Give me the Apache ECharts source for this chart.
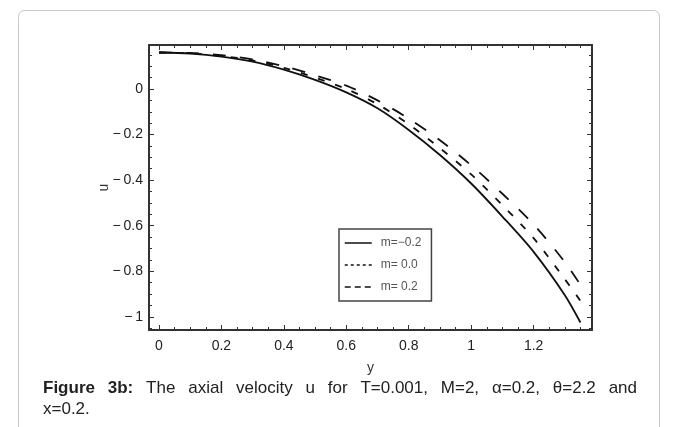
<!DOCTYPE html>
<html>
<head>
<meta charset="utf-8">
<script src="https://cdn.jsdelivr.net/npm/echarts@6/dist/echarts.min.js"></script>
<style>
  html, body { margin: 0; padding: 0; background: #fff; }
  #chart { width: 677px; height: 427px; }
</style>
</head>
<body>
<div id="chart"></div>
<script>
// y positions along the channel
const yValues = [0, 0.1, 0.2, 0.3, 0.4, 0.5, 0.6, 0.7, 0.8, 0.9, 1.0, 1.1, 1.2, 1.3, 1.35];
// axial velocity u
const uMinus02 = [0.16, 0.155, 0.142, 0.12, 0.085, 0.04, -0.015, -0.085, -0.18, -0.29, -0.415, -0.56, -0.715, -0.905, -1.025];
const uZero = [0.16, 0.156, 0.145, 0.125, 0.093, 0.05, 0.0, -0.067, -0.155, -0.26, -0.375, -0.51, -0.655, -0.835, -0.93];
const uPlus02 = [0.16, 0.158, 0.148, 0.13, 0.1, 0.06, 0.015, -0.05, -0.13, -0.225, -0.335, -0.46, -0.595, -0.76, -0.86];
const seriesNames = ["m=\u22120.2", "m= 0.0", "m= 0.2"];
const xTickLabels = ["0", "0.2", "0.4", "0.6", "0.8", "1", "1.2"];
const yTickLabels = ["0", "\u22120.2", "\u22120.4", "\u22120.6", "\u22120.8", "\u22121"];

const captionLine1 = ["Figure", "3b:", "The", "axial", "velocity", "u", "for", "T=0.001,", "M=2,", "\u03b1=0.2,", "\u03b8=2.2", "and"];
const captionLine2 = "x=0.2.";

const pair = arr => yValues.map((y, i) => [y, arr[i]]);

const tickColor = "#333";
const fontFamily = "'Liberation Sans', Arial, sans-serif";

function fmt(v, labels) {
  const r = Math.round(v * 1000) / 1000;
  const txt = (r < 0 ? "\u2212" : "") + String(Math.abs(r));
  return labels.indexOf(txt) >= 0 ? txt : "";
}

// justified caption: place each word
const capFont = 17;
const capLeft = 43, capRight = 637;
const ctx = document.createElement("canvas").getContext("2d");
function wordWidth(w, bold) {
  ctx.font = (bold ? "bold " : "") + capFont + "px 'Liberation Sans'";
  return ctx.measureText(w).width;
}
const widths = captionLine1.map((w, i) => wordWidth(w, i < 2));
const total = widths.reduce((a, b) => a + b, 0);
const gap = (capRight - capLeft - total) / (captionLine1.length - 1);
const captionEls = [];
let cx = capLeft;
captionLine1.forEach((w, i) => {
  captionEls.push({
    type: "text",
    x: cx, y: 388,
    style: {
      text: w, fill: "#222", fontSize: capFont, fontFamily: "Liberation Sans",
      fontWeight: i < 2 ? "bold" : "normal", verticalAlign: "middle"
    }
  });
  cx += widths[i] + gap;
});
captionEls.push({
  type: "text", x: capLeft, y: 409,
  style: { text: captionLine2, fill: "#222", fontSize: capFont, fontFamily: "Liberation Sans", verticalAlign: "middle" }
});

const axisCommon = {
  type: "value",
  axisLine: { show: true, onZero: false, lineStyle: { color: tickColor, width: 2 } },
  axisTick: { show: true, inside: true, length: 5, lineStyle: { color: tickColor, width: 1 } },
  minorTick: { show: true, splitNumber: 4, length: 3, lineStyle: { color: tickColor, width: 1 } },
  splitLine: { show: false }
};

const hiddenSymbol = { opacity: 0, borderWidth: 0 };

const chart = echarts.init(document.getElementById("chart"));
chart.setOption({
  backgroundColor: "#fff",
  animation: false,
  graphic: [
    {
      type: "rect",
      shape: { x: 18.5, y: 10.5, width: 641, height: 440, r: 6 },
      style: { fill: "none", stroke: "#c9c9c9", lineWidth: 1 }
    }
  ].concat(captionEls),
  grid: { left: 149, top: 45, width: 443, height: 285, containLabel: false },
  legend: {
    orient: "vertical",
    left: 339, top: 229,
    padding: [8, 10, 8, 5],
    borderColor: "#444", borderWidth: 1.5,
    itemWidth: 27, itemHeight: 12, itemGap: 10,
    textStyle: { color: "#555", fontSize: 12, fontFamily: fontFamily, padding: [0, 0, 0, 4] },
    data: [
      { name: seriesNames[0], itemStyle: hiddenSymbol, lineStyle: { color: "#111", width: 1.5, type: "solid" } },
      { name: seriesNames[1], itemStyle: hiddenSymbol, lineStyle: { color: "#111", width: 1.5, type: [3, 3] } },
      { name: seriesNames[2], itemStyle: hiddenSymbol, lineStyle: { color: "#111", width: 1.5, type: [6, 4] } }
    ]
  },
  xAxis: [
    Object.assign({}, axisCommon, {
      position: "bottom",
      min: -0.032, max: 1.387, splitNumber: 7,
      name: "y", nameLocation: "middle", nameGap: 31, nameMoveOverlap: false,
      nameTextStyle: { color: "#333", fontSize: 14, fontFamily: fontFamily },
      axisLabel: {
        color: "#222", fontSize: 14, fontFamily: fontFamily, margin: 9,
        showMinLabel: true, showMaxLabel: true,
        formatter: v => fmt(v, xTickLabels)
      }
    }),
    Object.assign({}, axisCommon, {
      position: "top",
      min: -0.032, max: 1.387, splitNumber: 7,
      axisLabel: { show: false }
    })
  ],
  yAxis: [
    Object.assign({}, axisCommon, {
      position: "left",
      min: -1.058, max: 0.193, splitNumber: 6,
      name: "u", nameLocation: "middle", nameGap: 38, nameRotate: 90, nameMoveOverlap: false,
      nameTextStyle: { color: "#333", fontSize: 14, fontFamily: fontFamily },
      axisLabel: {
        color: "#222", fontSize: 14, fontFamily: fontFamily, margin: 6,
        formatter: v => fmt(v, yTickLabels).replace("\u2212", "\u2212\u2009")
      }
    }),
    Object.assign({}, axisCommon, {
      position: "right",
      min: -1.058, max: 0.193, splitNumber: 6,
      axisLabel: { show: false }
    })
  ],
  series: [
    {
      name: seriesNames[0], type: "line", data: pair(uMinus02), smooth: 0.3,
      symbol: "none", color: "#111",
      lineStyle: { color: "#111", width: 1.8, type: "solid" }
    },
    {
      name: seriesNames[1], type: "line", data: pair(uZero), smooth: 0.3,
      symbol: "none", color: "#111",
      lineStyle: { color: "#111", width: 1.8, type: [7, 11] }
    },
    {
      name: seriesNames[2], type: "line", data: pair(uPlus02), smooth: 0.3,
      symbol: "none", color: "#111",
      lineStyle: { color: "#111", width: 1.8, type: [13, 14] }
    }
  ]
});
</script>
</body>
</html>
